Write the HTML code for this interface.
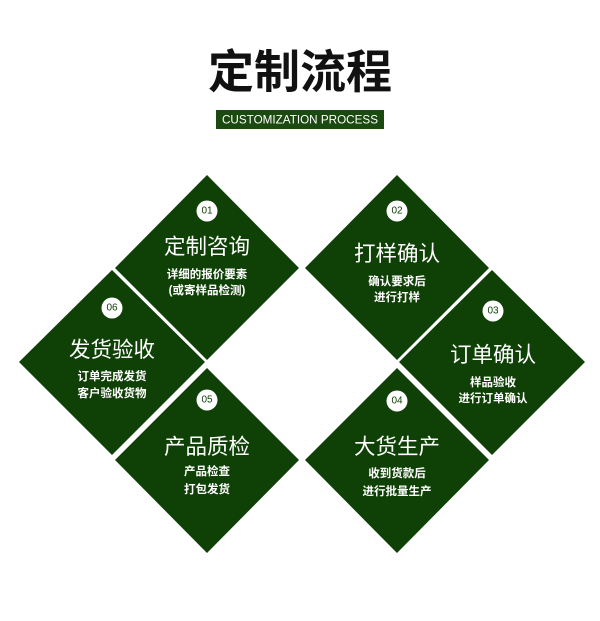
<!DOCTYPE html>
<html><head><meta charset="utf-8"><style>
html,body{margin:0;padding:0;background:#fff;}
svg{display:block;}
text{font-family:"Liberation Sans","Noto Sans CJK SC",sans-serif;}
</style></head><body>
<svg width="600" height="621" viewBox="0 0 600 621" xmlns="http://www.w3.org/2000/svg">
<rect width="600" height="621" fill="#fff"/>
<text x="300" y="72" text-anchor="middle" dominant-baseline="central" font-size="46" font-weight="bold" fill="#111">定制流程</text>
<rect x="216" y="110" width="168" height="19" fill="#1b4a10"/>
<text x="300" y="119.5" text-anchor="middle" dominant-baseline="central" font-size="12" fill="#fff" textLength="156" lengthAdjust="spacingAndGlyphs">CUSTOMIZATION PROCESS</text>
<g fill="#0f4006">
<polygon points="207,175 299,268 207,360 115,268"/>
<polygon points="397,175 489,268 397,360 305,268"/>
<polygon points="112,270 205,362 112,455 19,362"/>
<polygon points="492,270 585,362 492,455 399,362"/>
<polygon points="207,368 299,460 207,553 115,460"/>
<polygon points="397,368 489,460 397,553 305,460"/>
</g>
<g fill="#fff">
<circle cx="207" cy="211" r="10.5"/>
<circle cx="397" cy="211" r="10.5"/>
<circle cx="112" cy="308" r="10.5"/>
<circle cx="493" cy="311" r="10.5"/>
<circle cx="207" cy="400" r="10.5"/>
<circle cx="397" cy="401" r="10.5"/>
</g>
<g font-size="10" fill="#0f4006" text-anchor="middle" dominant-baseline="central">
<text x="207" y="211">01</text>
<text x="397" y="211">02</text>
<text x="112" y="308">06</text>
<text x="493" y="311">03</text>
<text x="207" y="400">05</text>
<text x="397" y="401">04</text>
</g>
<g font-size="21.5" fill="#fff" text-anchor="middle" dominant-baseline="central">
<text x="207" y="247">定制咨询</text>
<text x="397" y="254">打样确认</text>
<text x="112" y="350">发货验收</text>
<text x="493" y="355">订单确认</text>
<text x="207" y="447">产品质检</text>
<text x="397" y="447">大货生产</text>
</g>
<g font-size="11.5" fill="#fff" text-anchor="middle" dominant-baseline="central" font-weight="bold">
<text x="207" y="275">详细的报价要素</text>
<text x="207" y="291">(或寄样品检测)</text>
<text x="397" y="282">确认要求后</text>
<text x="397" y="298">进行打样</text>
<text x="112" y="377">订单完成发货</text>
<text x="112" y="394">客户验收货物</text>
<text x="493" y="383">样品验收</text>
<text x="493" y="399">进行订单确认</text>
<text x="207" y="472">产品检查</text>
<text x="207" y="490">打包发货</text>
<text x="397" y="474">收到货款后</text>
<text x="397" y="492">进行批量生产</text>
</g>
</svg>
</body></html>
